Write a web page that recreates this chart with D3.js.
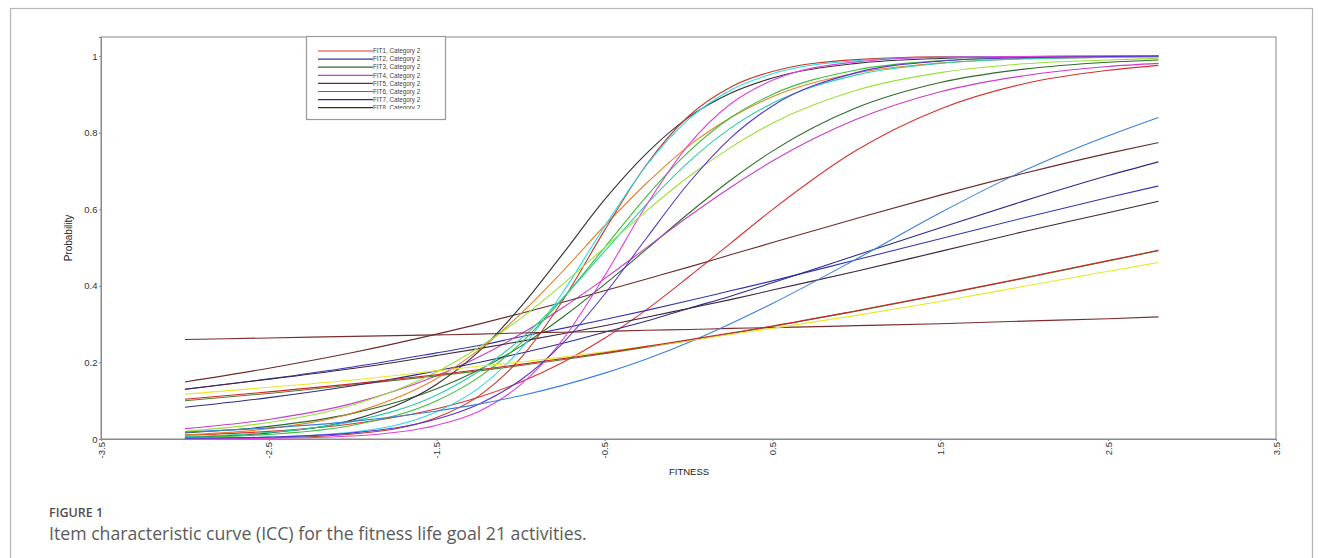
<!DOCTYPE html>
<html>
<head>
  <meta charset="utf-8" />
  <title>ICC fitness</title>
  <script src="https://cdnjs.cloudflare.com/ajax/libs/d3/7.8.5/d3.min.js"></script>
  <style>
    body { margin: 0; background: #fff; }
    .axis text { font-family: "Liberation Sans", Arial, sans-serif; font-size: 9.5px; fill: #333; }
    .axis path, .axis line { stroke: #8a8a8a; }
  </style>
</head>
<body>
  <svg id="chart" width="1323" height="558"></svg>
  <script>
    // ability grid (x) shared by all curves
    const theta = [-3, -2.5, -2, -1.5, -1.25, -1, -0.75, -0.5, -0.25, 0, 0.25, 0.5, 1, 1.5, 2, 2.5, 2.8]

    // probability at the theta points
    const fit1  = [0.010, 0.020, 0.040, 0.079, 0.109, 0.149, 0.200, 0.263, 0.338, 0.423, 0.511, 0.599, 0.754, 0.862, 0.928, 0.963, 0.976]
    const fit2  = [0.130, 0.157, 0.188, 0.225, 0.244, 0.267, 0.289, 0.312, 0.336, 0.361, 0.387, 0.413, 0.468, 0.523, 0.578, 0.631, 0.661]
    const fit3  = [0.016, 0.033, 0.067, 0.131, 0.180, 0.242, 0.318, 0.404, 0.496, 0.589, 0.676, 0.752, 0.865, 0.931, 0.966, 0.984, 0.990]
    const fit4  = [0.027, 0.051, 0.093, 0.165, 0.214, 0.274, 0.343, 0.419, 0.500, 0.581, 0.657, 0.726, 0.835, 0.907, 0.949, 0.973, 0.981]
    const fit5  = [0.149, 0.185, 0.226, 0.274, 0.300, 0.328, 0.357, 0.387, 0.418, 0.449, 0.481, 0.513, 0.576, 0.637, 0.694, 0.746, 0.774]
    const fit6  = [0.100, 0.119, 0.141, 0.165, 0.178, 0.192, 0.207, 0.223, 0.240, 0.257, 0.275, 0.294, 0.334, 0.376, 0.420, 0.465, 0.492]
    const fit7  = [0.083, 0.108, 0.139, 0.178, 0.200, 0.224, 0.250, 0.279, 0.308, 0.341, 0.373, 0.408, 0.480, 0.552, 0.622, 0.688, 0.724]
    const fit8  = [0.130, 0.156, 0.184, 0.218, 0.236, 0.255, 0.275, 0.296, 0.318, 0.341, 0.364, 0.389, 0.438, 0.490, 0.542, 0.591, 0.621]
    const fit9  = [0.005, 0.016, 0.050, 0.143, 0.228, 0.345, 0.483, 0.625, 0.746, 0.840, 0.903, 0.943, 0.981, 0.994, 0.998, 0.999, 1.000]
    const fit10 = [0.011, 0.027, 0.068, 0.158, 0.232, 0.327, 0.438, 0.557, 0.668, 0.765, 0.839, 0.894, 0.956, 0.982, 0.993, 0.997, 0.998]
    const fit11 = [0.001, 0.003, 0.013, 0.056, 0.112, 0.211, 0.361, 0.545, 0.717, 0.843, 0.919, 0.960, 0.991, 0.998, 0.999, 1.000, 1.000]
    const fit12 = [0.001, 0.005, 0.018, 0.071, 0.133, 0.235, 0.382, 0.555, 0.715, 0.835, 0.911, 0.954, 0.988, 0.997, 0.999, 1.000, 1.000]
    const fit13 = [0.004, 0.012, 0.036, 0.100, 0.161, 0.250, 0.366, 0.500, 0.634, 0.750, 0.839, 0.900, 0.964, 0.988, 0.996, 0.999, 0.999]
    const fit14 = [0.006, 0.017, 0.046, 0.115, 0.177, 0.261, 0.368, 0.490, 0.613, 0.723, 0.812, 0.877, 0.951, 0.981, 0.993, 0.997, 0.999]
    const fit15 = [0.000, 0.002, 0.008, 0.036, 0.072, 0.142, 0.259, 0.426, 0.611, 0.768, 0.875, 0.937, 0.985, 0.997, 0.999, 1.000, 1.000]
    const fit16 = [0.020, 0.043, 0.089, 0.175, 0.239, 0.315, 0.404, 0.500, 0.596, 0.685, 0.761, 0.825, 0.911, 0.957, 0.980, 0.990, 0.994]
    const fit17 = [0.002, 0.005, 0.016, 0.052, 0.091, 0.154, 0.250, 0.378, 0.525, 0.668, 0.786, 0.870, 0.957, 0.987, 0.996, 0.999, 1.000]
    const fit18 = [0.260, 0.264, 0.268, 0.272, 0.274, 0.277, 0.279, 0.281, 0.284, 0.286, 0.289, 0.291, 0.296, 0.301, 0.308, 0.314, 0.319]
    const fit19 = [0.018, 0.029, 0.046, 0.073, 0.091, 0.113, 0.140, 0.172, 0.209, 0.252, 0.301, 0.354, 0.470, 0.591, 0.701, 0.792, 0.840]
    const fit20 = [0.117, 0.135, 0.154, 0.178, 0.190, 0.201, 0.214, 0.228, 0.242, 0.257, 0.273, 0.289, 0.323, 0.359, 0.399, 0.438, 0.461]
    const fit21 = [0.104, 0.123, 0.144, 0.168, 0.181, 0.195, 0.210, 0.225, 0.242, 0.259, 0.277, 0.295, 0.335, 0.377, 0.421, 0.466, 0.493]

    const fitValues = [fit1, fit2, fit3, fit4, fit5, fit6, fit7, fit8, fit9, fit10, fit11,
                       fit12, fit13, fit14, fit15, fit16, fit17, fit18, fit19, fit20, fit21]
    const fitNames = fitValues.map((d, i) => 'FIT' + (i + 1) + ', Category 2')
    const fitColors = ['#d9322e', '#3535b0', '#2e6b2e', '#c83cc8', '#6b2b2b', '#5c7d2e', '#2c2c8c',
                       '#40243c', '#333333', '#e8822a', '#c0392b', '#2ed8e8', '#3cbf3c', '#2ad0a0',
                       '#e040e0', '#9ae03a', '#5a34d0', '#7a2c2c', '#3a80e0', '#e8e82a', '#c82828']

    const xTicks = [-3.5, -2.5, -1.5, -0.5, 0.5, 1.5, 2.5, 3.5]
    const yTicks = [0, 0.2, 0.4, 0.6, 0.8, 1]

    const svg = d3.select('#chart')
    const plotLeft = 101, plotRight = 1276, plotTop = 37, plotBottom = 439

    let xScale = d3.scaleLinear().domain([-3.5, 3.5]).range([plotLeft, plotRight])
    let yScale = d3.scaleLinear().domain([0, 1.05]).range([plotBottom, plotTop])

    // outer figure frame
    svg.append('rect')
      .attr('x', 10.5).attr('y', 8.5)
      .attr('width', 1302).attr('height', 600)
      .style('fill', 'none').style('stroke', '#b5b5b5').style('stroke-width', 1.2)

    // plot box
    svg.append('rect')
      .attr('x', plotLeft).attr('y', plotTop)
      .attr('width', plotRight - plotLeft).attr('height', plotBottom - plotTop)
      .style('fill', 'none').style('stroke', '#9a9a9a').style('stroke-width', 1.2)

    let line = d3.line()
      .x(function(d, i) { return xScale(theta[i]) })
      .y(function(d) { return yScale(d) })
      .curve(d3.curveMonotoneX)

    svg.append('g')
      .selectAll('path.icc')
      .data(fitValues)
      .enter()
      .append('path')
      .attr('class', 'icc')
      .attr('d', function(d) { return line(d) })
      .style('fill', 'none')
      .style('stroke', function(d, i) { return fitColors[i] })
      .style('stroke-width', 1.1)

    let yAxis = d3.axisLeft(yScale).tickValues(yTicks).tickSize(2).tickPadding(1.5).tickFormat(d3.format('~g'))
    svg.append('g').attr('class', 'axis').attr('transform', 'translate(' + plotLeft + ',0)').call(yAxis)

    let xAxis = d3.axisBottom(xScale).tickValues(xTicks).tickSize(2).tickFormat(function(d) { return d.toFixed(1) })
    svg.append('g').attr('class', 'axis').attr('id', 'xAxis')
      .attr('transform', 'translate(0,' + plotBottom + ')').call(xAxis)
    d3.select('#xAxis').selectAll('text')
      .attr('y', 0).attr('x', -3).attr('dy', '0.32em')
      .attr('transform', 'rotate(-90)')
      .style('text-anchor', 'end')

    svg.append('text')
      .attr('transform', 'translate(72,' + ((plotTop + plotBottom) / 2) + ') rotate(-90)')
      .style('text-anchor', 'middle')
      .style('font-family', '"Liberation Sans", Arial, sans-serif')
      .style('font-size', '10px').style('fill', '#222')
      .text('Probability')

    svg.append('text')
      .attr('x', 689).attr('y', 475)
      .style('text-anchor', 'middle')
      .style('font-family', '"Liberation Sans", Arial, sans-serif')
      .style('font-size', '9.5px').style('fill', '#222')
      .text('FITNESS')

    // legend, only the first entries fit in the box
    let legend = svg.append('g')
    legend.append('clipPath').attr('id', 'legClip')
      .append('rect').attr('x', 307).attr('y', 37).attr('width', 138).attr('height', 72)
    legend.append('rect')
      .attr('x', 306.5).attr('y', 36.5).attr('width', 139).attr('height', 83)
      .style('fill', '#fff').style('stroke', '#9a9a9a').style('stroke-width', 1.2)
    let rows = legend.append('g').attr('clip-path', 'url(#legClip)')
      .selectAll('g.row')
      .data(fitNames.slice(0, 8))
      .enter()
      .append('g')
      .attr('class', 'row')
      .attr('transform', function(d, i) { return 'translate(318,' + (51 + i * 8.1) + ')' })
    rows.append('line')
      .attr('x1', 0).attr('x2', 55)
      .style('stroke', function(d, i) { return fitColors[i] })
      .style('stroke-width', 1.2)
    rows.append('text')
      .attr('x', 55).attr('dy', '0.35em')
      .style('font-family', '"Liberation Sans", Arial, sans-serif')
      .style('font-size', '6.3px').style('fill', '#444')
      .text(function(d) { return d })

    // caption
    svg.append('text')
      .attr('x', 49).attr('y', 517)
      .style('font-family', '"Open Sans", sans-serif')
      .style('font-size', '12.5px').style('font-weight', 600).style('fill', '#4f4f4f')
      .text('FIGURE 1')
    svg.append('text')
      .attr('x', 49).attr('y', 540)
      .style('font-family', '"Open Sans", sans-serif')
      .style('font-size', '17.7px').style('fill', '#5a5a5a')
      .text('Item characteristic curve (ICC) for the fitness life goal 21 activities.')
  </script>
</body>
</html>
